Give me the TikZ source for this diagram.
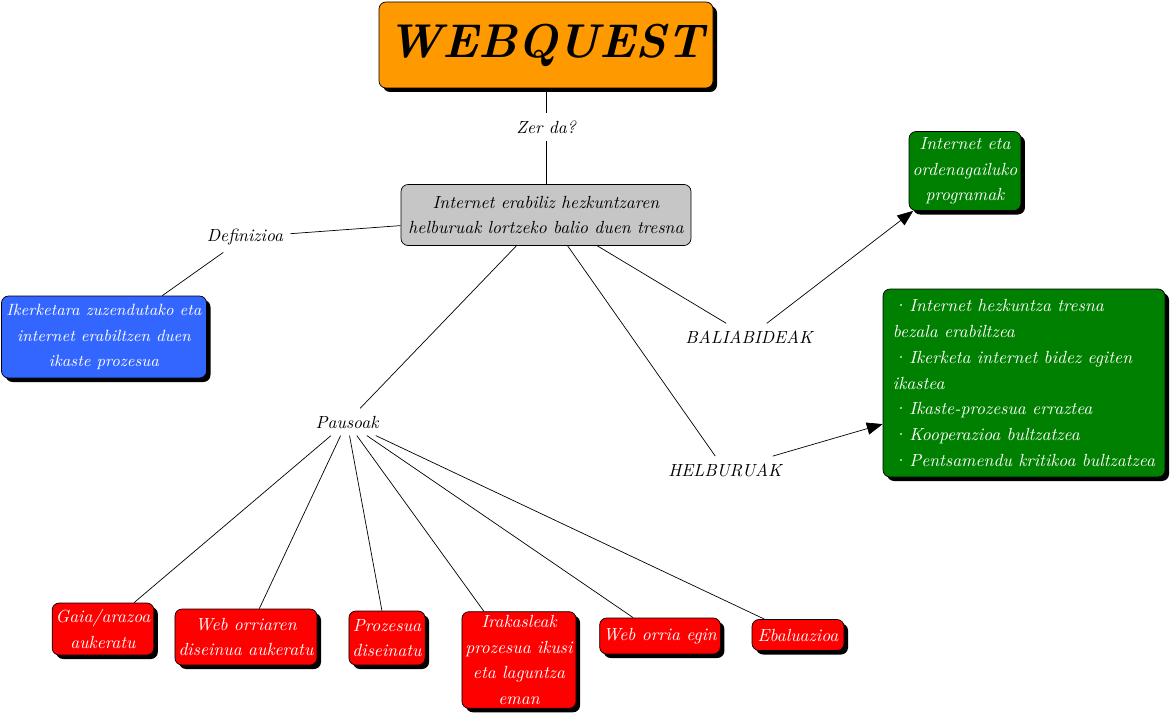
\documentclass[tikz,border=0pt]{standalone}
\usepackage{tikz}
\usetikzlibrary{arrows.meta,positioning,shadows}
\definecolor{wqorange}{HTML}{FF9900}
\definecolor{wqgrey}{HTML}{C6C6C6}
\definecolor{wqblue}{HTML}{3366FF}
\definecolor{wqgreen}{HTML}{008000}
\definecolor{wqred}{HTML}{FF0000}

\begin{document}
\begin{tikzpicture}[
  concept/.style={draw,rounded corners=4pt,align=center,inner sep=2pt,
                  font={\itshape\linespread{1.22}\selectfont}},
  shadowed/.style={concept,drop shadow={shadow xshift=0.08cm,shadow yshift=-0.08cm,
                   fill=black,opacity=1}},
  title/.style={shadowed,fill=wqorange,font=\fontsize{27}{30}\selectfont\bfseries\itshape},
  main/.style={concept,fill=wqgrey},
  def/.style={shadowed,fill=wqblue,text=white,
              font={\fontsize{9.3}{14.5}\selectfont\itshape}},
  res/.style={shadowed,fill=wqgreen,text=white},
  stepbox/.style={shadowed,fill=wqred,text=white},
  link/.style={font=\itshape,inner sep=4pt},
  >={Triangle[length=9pt,width=7pt]}]

\useasboundingbox (0,0) rectangle (23.44,-14.32);

\node[title] (wq)   at (10.92,-0.90) [minimum width=6.68cm,minimum height=1.72cm] {WEBQUEST};
\node[link]  (zer)  at (10.92,-2.54) {Zer da?};
\node[main]  (tool) at (10.92,-4.30) [minimum width=5.8cm,minimum height=1.22cm]
  {Internet erabiliz hezkuntzaren\\helburuak lortzeko balio duen tresna};

\node[link]  (defl) at (4.90,-4.74) {Definizioa};
\node[def]   (def)  at (2.08,-6.74) [minimum width=4.1cm,minimum height=1.64cm]
  {Ikerketara zuzendutako eta\\internet erabiltzen duen\\ikaste prozesua};

\node[link]  (bal)  at (14.98,-6.74) {BALIABIDEAK};
\node[res]   (prog) at (19.30,-3.42) [minimum width=2.22cm,minimum height=1.58cm]
  {Internet eta\\ordenagailuko\\programak};

\node[link]  (helb) at (14.50,-9.40) {HELBURUAK};
\node[res,align=left] (goals) at (20.48,-7.66) [minimum width=5.64cm,minimum height=3.76cm]
  {\textperiodcentered\,Internet hezkuntza tresna\\bezala erabiltzea\\
   \textperiodcentered\,Ikerketa internet bidez egiten\\ikastea\\
   \textperiodcentered\,Ikaste-prozesua erraztea\\
   \textperiodcentered\,Kooperazioa bultzatzea\\
   \textperiodcentered\,Pentsamendu kritikoa bultzatzea};

\node[link]  (paus) at (6.94,-8.44) {Pausoak};
\node[stepbox] (s1) at (2.06,-12.58)  [minimum width=1.98cm,minimum height=1.04cm] {Gaia/arazoa\\aukeratu};
\node[stepbox] (s2) at (4.92,-12.74)  [minimum width=2.8cm,minimum height=1.12cm] {Web orriaren\\diseinua aukeratu};
\node[stepbox] (s3) at (7.74,-12.76)  [minimum width=1.52cm,minimum height=1.08cm] {Prozesua\\diseinatu};
\node[stepbox] (s4) at (10.38,-13.20) [minimum width=2.22cm,minimum height=1.9cm] {Irakasleak\\prozesua ikusi\\eta laguntza\\eman};
\node[stepbox] (s5) at (13.20,-12.72) [minimum width=2.16cm,minimum height=0.72cm] {Web orria egin};
\node[stepbox] (s6) at (15.96,-12.70) [minimum width=1.84cm,minimum height=0.62cm] {Ebaluazioa};

% links
\draw (wq) -- (zer);
\draw (zer) -- (tool);
\draw (tool) -- (defl);
\draw (defl) -- (def);
\draw (tool) -- (bal);
\draw[->] (bal) -- (prog);
\draw (tool) -- (helb);
\draw[->] (helb) -- (goals);
\draw (tool) -- (paus);
\foreach \s in {s1,s2,s3,s4,s5,s6}
  \draw (paus) -- (\s);
\end{tikzpicture}
\end{document}
